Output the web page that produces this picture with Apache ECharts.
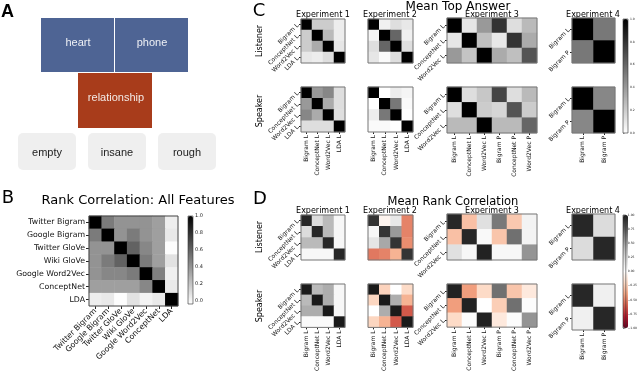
<!DOCTYPE html>
<html>
<head>
<meta charset="utf-8">
<script src="https://cdn.jsdelivr.net/npm/echarts@6/dist/echarts.min.js"></script>
<style>
html, body { margin: 0; padding: 0; background: #fff; }
#chart { width: 640px; height: 374px; }
</style>
</head>
<body>
<div id="chart"></div>
<script>
// panel A words
var cueWords = ['heart', 'phone'];
var targetWord = 'relationship';
var otherWords = ['empty', 'insane', 'rough'];

// panel B
var featureNames = ['Twitter Bigram', 'Google Bigram', 'Twitter GloVe', 'Wiki GloVe', 'Google Word2Vec', 'ConceptNet', 'LDA'];
var rankAll = [
    [1.00, 0.50, 0.40, 0.40, 0.40, 0.35, 0.03],
    [0.50, 1.00, 0.40, 0.50, 0.40, 0.35, 0.05],
    [0.40, 0.40, 1.00, 0.60, 0.45, 0.35, -0.03],
    [0.40, 0.50, 0.60, 1.00, 0.50, 0.35, 0.08],
    [0.40, 0.45, 0.45, 0.50, 1.00, 0.48, 0.02],
    [0.35, 0.35, 0.35, 0.35, 0.45, 1.00, 0.05],
    [0.03, 0.05, -0.03, 0.08, 0.01, 0.05, 1.00]
];

// C / D tick labels
var lab4 = ['Bigram L', 'ConceptNet L', 'Word2Vec L', 'LDA L'];
var lab3 = ['Bigram L', 'ConceptNet L', 'Word2Vec L'];
var lab6 = ['Bigram L', 'ConceptNet L', 'Word2Vec L', 'Bigram P', 'ConceptNet P', 'Word2Vec P'];
var lab2 = ['Bigram L', 'Bigram P'];

// panel C: mean top answer
var topE1L = [[1, 0.20, 0.20, 0.07], [0.20, 1, 0.27, 0.07], [0.20, 0.33, 1, 0.10], [0.09, 0.07, 0.13, 1]];
var topE2L = [[1, 0.06, 0.13, 0.09], [0.04, 1, 0.60, 0.06], [0.13, 0.60, 1, 0.13], [0.10, 0.02, 0.13, 1]];
var topE3L = [[1, 0.10, 0.40, 0.80, 0.13, 0.27], [0.10, 1, 0.25, 0.09, 0.80, 0.33], [0.40, 0.23, 1, 0.33, 0.25, 0.67]];
var topE4L = [[1, 0.53], [0.53, 1]];
var topE1S = [[1, 0.40, 0.47, 0.13], [0.40, 1, 0.33, 0.13], [0.47, 0.33, 1, 0.13], [0.13, 0.13, 0.13, 1]];
var topE2S = [[1, 0.00, 0.07, 0.04], [0.00, 1, 0.53, 0.02], [0.07, 0.53, 1, 0.00], [0.02, 0.02, 0.00, 1]];
var topE3S = [[1, 0.13, 0.22, 0.73, 0.13, 0.27], [0.13, 1, 0.20, 0.16, 0.67, 0.20], [0.27, 0.27, 1, 0.27, 0.27, 0.60]];
var topE4S = [[1, 0.47], [0.47, 1]];

// panel D: mean rank correlation
var rankE1L = [[0.95, 0.22, 0.40, 0.05], [0.22, 0.95, 0.40, 0.05], [0.40, 0.40, 0.95, 0.05], [0.05, 0.05, 0.05, 0.95]];
var rankE2L = [[0.90, -0.06, 0.15, -0.50], [0.05, 0.90, 0.53, -0.50], [0.17, 0.47, 0.90, -0.47], [-0.53, -0.50, -0.35, 0.90]];
var rankE3L = [[0.95, -0.30, 0.20, 0.65, -0.27, 0.08], [-0.30, 0.95, 0.04, -0.28, 0.68, 0.08], [0.20, 0.05, 0.97, 0.05, 0.05, 0.55]];
var rankE4L = [[0.95, 0.22], [0.22, 0.95]];
var rankE1S = [[1, 0.40, 0.45, 0.05], [0.40, 1, 0.45, 0.05], [0.45, 0.45, 1, 0.05], [0.03, 0.03, 0.03, 1]];
var rankE2S = [[1, -0.23, 0.00, -0.20], [-0.22, 1, 0.45, -0.35], [0.00, 0.45, 1, -0.62], [-0.22, -0.35, -0.62, 1]];
var rankE3S = [[0.97, -0.42, -0.20, 0.68, -0.28, -0.12], [-0.42, 0.97, 0.00, -0.25, 0.68, 0.02], [-0.20, 0.02, 0.97, -0.12, 0.02, 0.55]];
var rankE4S = [[0.95, 0.10], [0.10, 0.95]];

// colorbar ticks
var barTicksB = [0, 0.2, 0.4, 0.6, 0.8, 1.0];
var barTicksC = [0, 0.2, 0.4, 0.6, 0.8, 1.0];
var barTicksD = [-1, -0.75, -0.5, -0.25, 0, 0.25, 0.5, 0.75, 1];

var greys = ['#ffffff', '#000000'];
var rdgy = ['#67001f', '#b2182b', '#d6604d', '#f4a582', '#fddbc7', '#ffffff', '#e0e0e0', '#bababa', '#878787', '#4d4d4d', '#1a1a1a'];

var FONT = 'DejaVu Sans';
var grids = [], xAxes = [], yAxes = [], series = [];

function addHeat(m, xl, yl, box, o) {
    var gi = grids.length;
    grids.push({
        left: box[0], top: box[1], width: box[2], height: box[3],
        show: true, z: 3, backgroundColor: 'transparent', borderColor: o.border || '#777', borderWidth: 1
    });
    xAxes.push({
        type: 'category', gridIndex: gi, data: xl, position: 'bottom',
        axisLine: { show: false }, splitLine: { show: false },
        axisTick: { show: o.xLab, alignWithLabel: true, length: o.tick, lineStyle: { color: '#222' } },
        axisLabel: { show: o.xLab, interval: 0, rotate: o.xRot, fontSize: o.fs, color: '#111', margin: o.tick + 1, fontFamily: FONT }
    });
    yAxes.push({
        type: 'category', gridIndex: gi, data: yl, inverse: true,
        axisLine: { show: false }, splitLine: { show: false },
        axisTick: { show: o.yLab, alignWithLabel: true, length: o.tick, lineStyle: { color: '#222' } },
        axisLabel: { show: o.yLab, interval: 0, rotate: o.yRot, fontSize: o.fs, color: '#111', margin: o.tick + 1, fontFamily: FONT }
    });
    var data = [];
    m.forEach(function (row, r) {
        row.forEach(function (v, c) { data.push([c, r, v]); });
    });
    series.push({ type: 'heatmap', xAxisIndex: gi, yAxisIndex: gi, data: data, emphasis: { disabled: true } });
    return series.length - 1;
}

function addBar(box, min, max, ticks, fs, fmt) {
    var gi = grids.length;
    grids.push({
        left: box[0], top: box[1], width: box[2], height: box[3],
        show: true, z: 5, backgroundColor: 'transparent', borderColor: '#333', borderWidth: 0.6
    });
    xAxes.push({ type: 'value', gridIndex: gi, show: false, min: 0, max: 1 });
    yAxes.push({
        type: 'value', gridIndex: gi, position: 'right', min: min, max: max,
        axisLine: { show: false }, splitLine: { show: false },
        axisTick: { show: true, length: 1.5, customValues: ticks, lineStyle: { color: '#333', width: 0.5 } },
        axisLabel: { customValues: ticks, fontSize: fs, color: '#222', margin: 2, fontFamily: FONT, formatter: fmt }
    });
}

// panel B
var sB = addHeat(rankAll, featureNames, featureNames, [89, 216, 89, 90],
    { xLab: true, yLab: true, xRot: 45, yRot: 0, fs: 7.8, tick: 3, border: '#444' });

// panel C
var optC = { tick: 2, fs: 6, yRot: 45, xRot: 90 };
function o(x, y) { return Object.assign({ xLab: x, yLab: y }, optC); }
var sC = [
    addHeat(topE1L, lab4, lab4, [301, 19, 44, 44], o(false, true)),
    addHeat(topE2L, lab4, lab4, [368, 19, 45, 44], o(false, false)),
    addHeat(topE3L, lab6, lab3, [447, 18, 90, 45], o(false, true)),
    addHeat(topE4L, lab2, lab2, [572, 18, 43, 45], o(false, true)),
    addHeat(topE1S, lab4, lab4, [301, 87, 44, 45], o(true, true)),
    addHeat(topE2S, lab4, lab4, [368, 87, 45, 45], o(true, false)),
    addHeat(topE3S, lab6, lab3, [447, 87, 90, 46], o(true, true)),
    addHeat(topE4S, lab2, lab2, [572, 87, 43, 46], o(true, true))
];

// panel D
var sD = [
    addHeat(rankE1L, lab4, lab4, [301, 215, 44, 45], o(false, true)),
    addHeat(rankE2L, lab4, lab4, [368, 215, 45, 45], o(false, false)),
    addHeat(rankE3L, lab6, lab3, [447, 214, 90, 46], o(false, true)),
    addHeat(rankE4L, lab2, lab2, [572, 214, 43, 46], o(false, true)),
    addHeat(rankE1S, lab4, lab4, [301, 284, 44, 45], o(true, true)),
    addHeat(rankE2S, lab4, lab4, [368, 284, 45, 45], o(true, false)),
    addHeat(rankE3S, lab6, lab3, [447, 284, 90, 46], o(true, true)),
    addHeat(rankE4S, lab2, lab2, [572, 284, 43, 46], o(true, true))
];

var fmt1 = function (v) { return v.toFixed(1); };
var fmt2 = function (v) { return (v < 0 ? '\u2212' : '') + Math.abs(v).toFixed(2); };
var boxB = [188, 216, 5, 88], boxC = [623, 19, 5, 114], boxD = [623, 215, 5, 113];
addBar(boxB, -0.04, 1, barTicksB, 5, fmt1);
addBar(boxC, 0, 1, barTicksC, 3, fmt1);
addBar(boxD, -1, 1, barTicksD, 3, fmt2);

function vm(idx, min, max, colors, box) {
    return {
        type: 'continuous', seriesIndex: idx, min: min, max: max, inRange: { color: colors },
        show: true, calculable: false, hoverLink: false, orient: 'vertical', padding: 0,
        left: box[0], top: box[1], itemWidth: box[2], itemHeight: box[3], text: null
    };
}

// graphics: panel A + labels
var g = [];
function txt(s, x, y, size, extra) {
    g.push(Object.assign({
        type: 'text', x: x, y: y,
        style: { text: s, fontSize: size, fontFamily: FONT, fill: '#000', align: 'center', verticalAlign: 'middle' }
    }, extra || {}));
}
cueWords.forEach(function (w, i) {
    g.push({ type: 'rect', shape: { x: 41 + i * 74, y: 18, width: 73, height: 54 }, style: { fill: '#4e6494' } });
    g.push({ type: 'text', x: 78 + i * 74, y: 43, style: { text: w, fontSize: 11, fontFamily: 'Liberation Sans', fill: '#eef0f5', align: 'center', verticalAlign: 'middle' } });
});
g.push({ type: 'rect', shape: { x: 78, y: 73, width: 74, height: 55 }, style: { fill: '#a83c1b' } });
g.push({ type: 'text', x: 116, y: 98, style: { text: targetWord, fontSize: 11, fontFamily: 'Liberation Sans', fill: '#f3eae6', align: 'center', verticalAlign: 'middle' } });
otherWords.forEach(function (w, i) {
    g.push({ type: 'rect', shape: { x: 18 + i * 70, y: 133, width: 58, height: 37, r: 5 }, style: { fill: '#efefef' } });
    g.push({ type: 'text', x: 47 + i * 70, y: 153, style: { text: w, fontSize: 11, fontFamily: 'Liberation Sans', fill: '#222', align: 'center', verticalAlign: 'middle' } });
});
g.push({ type: 'text', x: 1, y: 12, style: { text: 'A', fontSize: 18, fontWeight: 'bold', fontFamily: 'Liberation Sans', fill: '#000', align: 'left', verticalAlign: 'middle' } });

txt('B', 8, 198, 18);
txt('C', 259, 11, 18);
txt('D', 260, 199, 18);
txt('Rank Correlation: All Features', 138, 201, 13);
txt('Mean Top Answer', 458, 7, 12);
txt('Mean Rank Correlation', 453, 202, 11.5);

var expX = [323, 390, 492, 593];
expX.forEach(function (x, i) {
    txt('Experiment ' + (i + 1), x, 14.5, 8);
    txt('Experiment ' + (i + 1), x, 210.5, 8);
});
var rot = { rotation: Math.PI / 2 };
txt('Listener', 260, 41, 8, rot);
txt('Speaker', 260, 111, 8, rot);
txt('Listener', 260, 237, 8, rot);
txt('Speaker', 260, 306, 8, rot);

var chart = echarts.init(document.getElementById('chart'));
chart.setOption({
    animation: false,
    backgroundColor: '#fff',
    grid: grids,
    xAxis: xAxes,
    yAxis: yAxes,
    visualMap: [
        vm([sB], -0.04, 1, greys, boxB),
        vm(sC, 0, 1, greys, boxC),
        vm(sD, -1, 1, rdgy, boxD)
    ],
    series: series,
    graphic: g
});
</script>
</body>
</html>
